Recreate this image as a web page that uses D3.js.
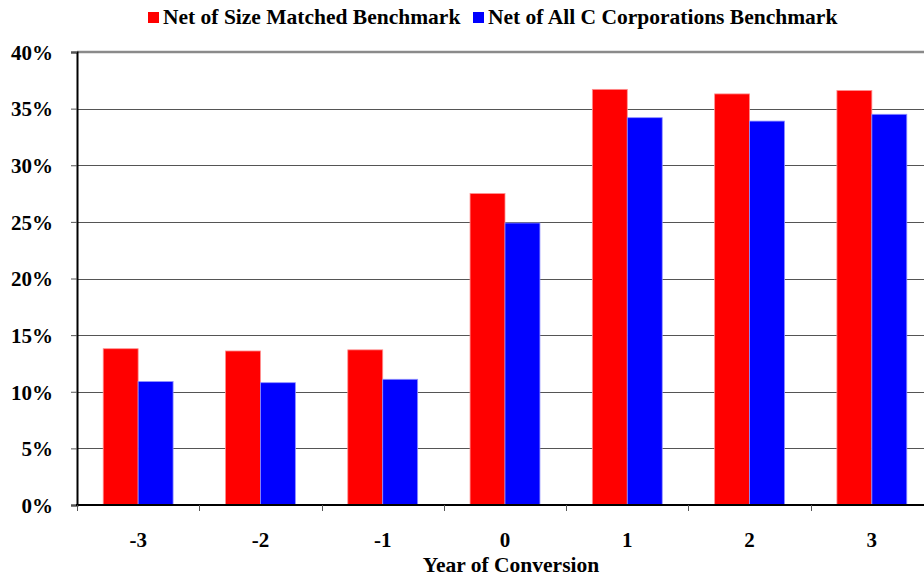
<!DOCTYPE html>
<html>
<head>
<meta charset="utf-8">
<script src="https://cdn.jsdelivr.net/npm/d3@7"></script>
<style>
  body { margin: 0; background: #fff; }
  svg text { font-family: "Liberation Serif", "Times New Roman", serif; font-weight: bold; fill: #000; }
</style>
</head>
<body>
<svg id="chart" width="924" height="578"></svg>
<script>
// data
var years = ["-3", "-2", "-1", "0", "1", "2", "3"];
var sizeMatched = [13.8, 13.6, 13.7, 27.5, 36.7, 36.3, 36.6];
var allCCorps = [10.9, 10.8, 11.1, 24.9, 34.2, 33.9, 34.5];
var seriesNames = ["Net of Size Matched Benchmark", "Net of All C Corporations Benchmark"];
var seriesColors = ["#ff0000", "#0000ff"];
var yTicks = [0, 5, 10, 15, 20, 25, 30, 35, 40];

var svg = d3.select("#chart");

// plot area runs off the right edge in the original
var plotLeft = 77, plotRight = 933, plotTop = 52, plotBottom = 505;

var x0 = d3.scaleBand().domain(years).range([plotLeft, plotRight]).padding(0);
var x1 = d3.scaleBand().domain(d3.range(seriesNames.length))
  .range([0, x0.bandwidth()]).paddingInner(0).paddingOuter(0.75);
var y = d3.scaleLinear().domain([0, 40]).range([plotBottom, plotTop]);

// gridlines
svg.append("g")
  .selectAll("line")
  .data(yTicks.filter(function(d) { return d > 0 && d < 40; }))
  .enter().append("line")
    .attr("x1", plotLeft).attr("x2", 924)
    .attr("y1", function(d) { return Math.round(y(d)) + 0.5; })
    .attr("y2", function(d) { return Math.round(y(d)) + 0.5; })
    .attr("stroke", "#555").attr("stroke-width", 1);

// top border of plot area
svg.append("line")
  .attr("x1", plotLeft).attr("x2", 924)
  .attr("y1", y(40)).attr("y2", y(40))
  .attr("stroke", "#8a8a8a").attr("stroke-width", 2.5);

// bars
var rows = years.map(function(yr, i) { return { year: yr, vals: [sizeMatched[i], allCCorps[i]] }; });

var groups = svg.append("g").selectAll("g")
  .data(rows)
  .enter().append("g")
    .attr("transform", function(d) { return "translate(" + x0(d.year) + ",0)"; });

groups.selectAll("rect")
  .data(function(d) { return d.vals; })
  .enter().append("rect")
    .attr("x", function(d, i) { return x1(i); })
    .attr("y", function(d) { return y(d); })
    .attr("width", x1.bandwidth())
    .attr("height", function(d) { return y(0) - y(d); })
    .attr("fill", function(d, i) { return seriesColors[i]; })
    .attr("stroke", function(d, i) { return i === 0 ? "#ff9090" : "#9090ff"; })
    .attr("stroke-width", 0.8);

// y axis
var yAxis = svg.append("g")
  .attr("transform", "translate(" + plotLeft + ",0)")
  .call(d3.axisLeft(y).tickValues(yTicks).tickSize(6).tickPadding(18)
    .tickFormat(function(d) { return d + "%"; }));
yAxis.select(".domain").attr("stroke", "#000").attr("stroke-width", 2);
yAxis.selectAll(".tick line").attr("stroke", "#555");
yAxis.selectAll(".tick text").style("font-size", "21px").attr("dy", "0.35em");

// x axis
var xAxis = svg.append("g")
  .attr("transform", "translate(0," + plotBottom + ")");
xAxis.append("line")
  .attr("x1", plotLeft - 1).attr("x2", 924)
  .attr("y1", 0).attr("y2", 0)
  .attr("stroke", "#000").attr("stroke-width", 2);
xAxis.selectAll(".xt")
  .data(years)
  .enter().append("line")
    .attr("x1", function(d) { return Math.round(x0(d)) + 0.5; })
    .attr("x2", function(d) { return Math.round(x0(d)) + 0.5; })
    .attr("y1", 0).attr("y2", 6)
    .attr("stroke", "#555");
xAxis.selectAll(".xl")
  .data(years)
  .enter().append("text")
    .attr("x", function(d) { return x0(d) + x0.bandwidth() / 2; })
    .attr("y", 42)
    .attr("text-anchor", "middle")
    .style("font-size", "21px")
    .text(function(d) { return d; });

// axis title
svg.append("text")
  .attr("x", 511)
  .attr("y", 572)
  .attr("text-anchor", "middle")
  .style("font-size", "21.5px")
  .text("Year of Conversion");

// legend
var legendX = [148, 473];
var legend = svg.append("g").selectAll("g")
  .data(seriesNames)
  .enter().append("g")
    .attr("transform", function(d, i) { return "translate(" + legendX[i] + ",12)"; });
legend.append("rect")
  .attr("width", 11).attr("height", 11)
  .attr("fill", function(d, i) { return seriesColors[i]; });
legend.append("text")
  .attr("x", 15).attr("y", 12)
  .style("font-size", "21.5px")
  .text(function(d) { return d; });
</script>
</body>
</html>
